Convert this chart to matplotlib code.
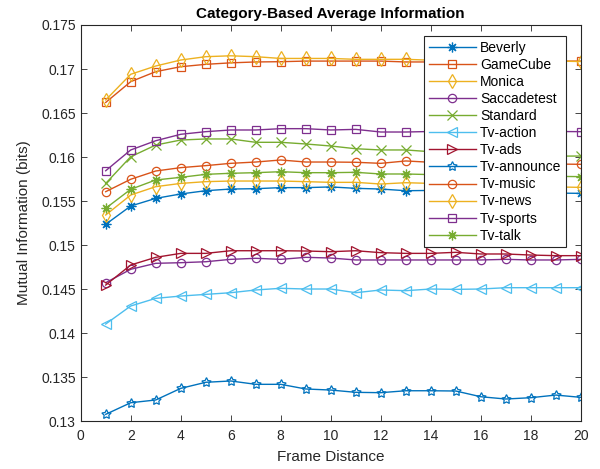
import matplotlib
matplotlib.use("Agg")
import matplotlib.pyplot as plt
import numpy as np

plt.rcParams['font.family'] = ['Liberation Sans', 'DejaVu Sans']

frame_distance = list(range(1, 21))

beverly = [0.15235, 0.15443, 0.15530, 0.15580, 0.15617, 0.15636, 0.15640, 0.15652, 0.15652, 0.15660,
           0.15644, 0.15636, 0.15617, 0.15620, 0.15610, 0.15600, 0.15600, 0.15590, 0.15590, 0.15587]
gamecube = [0.16620, 0.16856, 0.16970, 0.17026, 0.17053, 0.17070, 0.17080, 0.17083, 0.17090, 0.17090,
            0.17090, 0.17090, 0.17080, 0.17080, 0.17090, 0.17090, 0.17090, 0.17090, 0.17090, 0.17090]
monica = [0.16648, 0.16940, 0.17034, 0.17102, 0.17140, 0.17150, 0.17140, 0.17120, 0.17120, 0.17120,
          0.17110, 0.17110, 0.17110, 0.17100, 0.17100, 0.17090, 0.17090, 0.17090, 0.17090, 0.17085]
saccadetest = [0.14572, 0.14724, 0.14792, 0.14799, 0.14810, 0.14837, 0.14849, 0.14837, 0.14860, 0.14852,
               0.14830, 0.14830, 0.14830, 0.14830, 0.14830, 0.14830, 0.14837, 0.14830, 0.14830, 0.14837]
standard = [0.15700, 0.16003, 0.16136, 0.16193, 0.16205, 0.16205, 0.16167, 0.16167, 0.16148, 0.16125,
            0.16094, 0.16080, 0.16080, 0.16060, 0.16050, 0.16040, 0.16030, 0.16020, 0.16010, 0.16011]
tv_action = [0.14102, 0.14307, 0.14394, 0.14420, 0.14439, 0.14458, 0.14489, 0.14508, 0.14500, 0.14500,
             0.14458, 0.14489, 0.14481, 0.14500, 0.14496, 0.14500, 0.14515, 0.14515, 0.14515, 0.14515]
tv_ads = [0.14545, 0.14773, 0.14860, 0.14905, 0.14905, 0.14935, 0.14935, 0.14935, 0.14932, 0.14924,
          0.14935, 0.14913, 0.14905, 0.14905, 0.14917, 0.14898, 0.14898, 0.14886, 0.14879, 0.14879]
tv_announce = [0.13076, 0.13208, 0.13239, 0.13371, 0.13440, 0.13455, 0.13417, 0.13417, 0.13364, 0.13352,
               0.13326, 0.13322, 0.13344, 0.13344, 0.13341, 0.13276, 0.13250, 0.13265, 0.13295, 0.13269]
tv_music = [0.15606, 0.15747, 0.15841, 0.15879, 0.15902, 0.15928, 0.15943, 0.15966, 0.15943, 0.15943,
            0.15940, 0.15928, 0.15955, 0.15940, 0.15950, 0.15930, 0.15930, 0.15920, 0.15920, 0.15917]
tv_news = [0.15341, 0.15568, 0.15663, 0.15700, 0.15720, 0.15727, 0.15727, 0.15727, 0.15720, 0.15712,
           0.15712, 0.15693, 0.15708, 0.15700, 0.15690, 0.15680, 0.15670, 0.15660, 0.15660, 0.15655]
tv_sports = [0.15844, 0.16080, 0.16185, 0.16258, 0.16288, 0.16307, 0.16307, 0.16322, 0.16322, 0.16307,
             0.16314, 0.16284, 0.16284, 0.16290, 0.16290, 0.16300, 0.16290, 0.16290, 0.16290, 0.16288]
tv_talk = [0.15417, 0.15633, 0.15739, 0.15769, 0.15803, 0.15815, 0.15822, 0.15833, 0.15822, 0.15822,
           0.15826, 0.15807, 0.15807, 0.15800, 0.15800, 0.15790, 0.15790, 0.15780, 0.15780, 0.15777]

labels = ['Beverly', 'GameCube', 'Monica', 'Saccadetest', 'Standard', 'Tv-action',
          'Tv-ads', 'Tv-announce', 'Tv-music', 'Tv-news', 'Tv-sports', 'Tv-talk']
series = [beverly, gamecube, monica, saccadetest, standard, tv_action,
          tv_ads, tv_announce, tv_music, tv_news, tv_sports, tv_talk]
markers = ['ast', 's', 'd', 'o', 'x', '<', '>', 'p', 'o', 'd', 's', 'ast']
palette = ['#0072BD', '#D95319', '#EDB120', '#7E2F8E', '#77AC30', '#4DBEEE', '#A2142F']
colors = [palette[i % 7] for i in range(12)]

fig = plt.figure(figsize=(6.0, 4.69), dpi=100)
ax = fig.add_axes([0.1345, 0.1023, 0.8335, 0.8444])

for i, (lab, vals) in enumerate(zip(labels, series)):
    mk = markers[i]
    kw = dict(color=colors[i], lw=1.0, markersize=6, markeredgewidth=0.9,
              markerfacecolor='none', label=lab)
    if mk == 'ast':
        kw['marker'] = (8, 2, 0)
        kw['markersize'] = 7
    elif mk == 'p':
        kw['marker'] = (5, 1, 0)
        kw['markersize'] = 7
    else:
        kw['marker'] = mk
        if mk in ('<', '>', 'x', 'd'):
            kw['markersize'] = 7
    ax.plot(frame_distance, vals, **kw)

ax.set_xlim(0, 20)
ax.set_ylim(0.13, 0.175)
ax.set_xticks(np.arange(0, 21, 2))
ax.set_yticks(np.arange(0.13, 0.1751, 0.005))
ax.set_yticklabels(['0.13', '0.135', '0.14', '0.145', '0.15', '0.155',
                    '0.16', '0.165', '0.17', '0.175'])
ax.tick_params(direction='in', top=True, right=True, length=4, width=0.6,
               labelsize=10, colors='#262626')
ax.tick_params(axis='x', pad=6)
for sp in ax.spines.values():
    sp.set_color('#262626')
    sp.set_linewidth(0.8)

ax.set_title('Category-Based Average Information', fontsize=11, fontweight='bold',
             color='black', pad=5)
ax.set_xlabel('Frame Distance', fontsize=11, color='#262626', labelpad=5)
ax.set_ylabel('Mutual Information (bits)', fontsize=11, color='#262626', labelpad=7)

leg = ax.legend(loc='upper right', bbox_to_anchor=(0.971, 0.972), fontsize=10,
                frameon=True, fancybox=False, framealpha=1, edgecolor='#262626',
                labelspacing=0.22, handlelength=3.4, handletextpad=0.3,
                borderpad=0.35, borderaxespad=0.0)
leg.get_frame().set_linewidth(0.8)

fig.savefig('out.png', dpi=100)
